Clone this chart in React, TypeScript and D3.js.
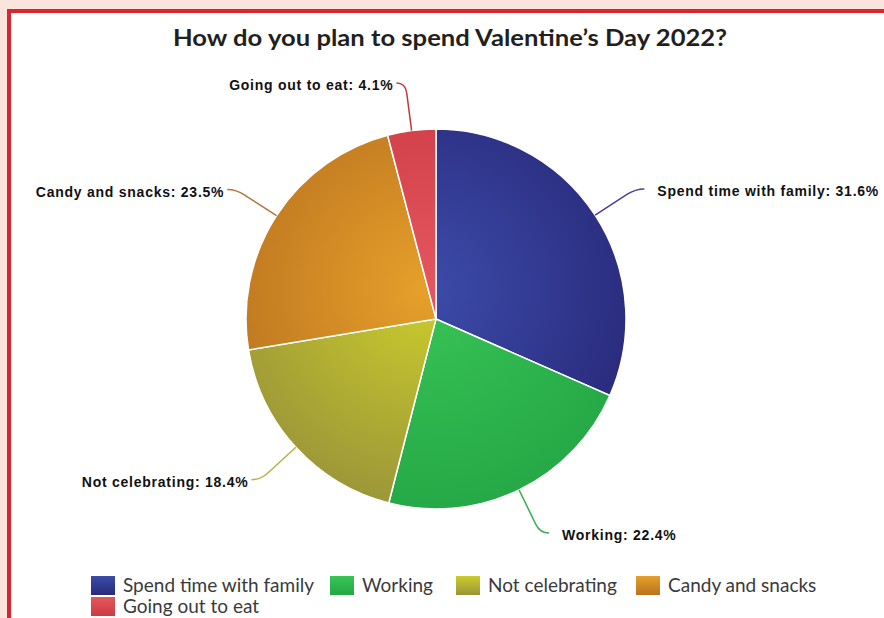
import React, { useEffect, useRef } from 'react';
import * as d3 from 'd3';

// Survey answers, clockwise from 12 o'clock
const categories = ['Spend time with family', 'Working', 'Not celebrating', 'Candy and snacks', 'Going out to eat'];
const shares = [31.6, 22.4, 18.4, 23.5, 4.1];
const lightColors = ['#3c4caa', '#38c456', '#cccd2c', '#e6a02a', '#e4565f'];
const darkColors = ['#29297a', '#25a846', '#9a9439', '#b9721f', '#cc3a43'];
const lineColors = ['#4a3f9a', '#3cae55', '#b3b347', '#b5733a', '#c0393f'];
const title = 'How do you plan to spend Valentine\u2019s Day 2022?';

function App() {
  const ref = useRef<SVGSVGElement | null>(null);

  useEffect(() => {
    const svg = d3.select(ref.current);
    svg.selectAll('*').remove();

    const width = 884;
    const height = 618;
    const cx = 436;
    const cy = 319;
    const radius = 190;

    // page background + red frame
    svg.append('rect').attr('width', width).attr('height', height).attr('fill', '#fae5dc');
    svg.append('rect').attr('x', 7).attr('y', 9).attr('width', width).attr('height', height)
      .attr('fill', '#d8252f');
    svg.append('rect').attr('x', 11).attr('y', 13).attr('width', width).attr('height', height)
      .attr('fill', '#ffffff');

    svg.append('text')
      .attr('x', 450)
      .attr('y', 46)
      .attr('text-anchor', 'middle')
      .attr('font-family', 'Lato, "Noto Sans", sans-serif')
      .attr('font-weight', 700)
      .attr('font-size', 23)
      .attr('textLength', 554)
      .attr('lengthAdjust', 'spacingAndGlyphs')
      .attr('fill', '#231f20')
      .text(title);

    const defs = svg.append('defs');
    categories.forEach((_, i) => {
      // coordinates relative to the pie centre (the slices live in a translated group)
      const g = defs.append('radialGradient')
        .attr('id', `slice-${i}`)
        .attr('gradientUnits', 'userSpaceOnUse')
        .attr('cx', -10).attr('cy', -30)
        .attr('r', radius * 1.2);
      g.append('stop').attr('offset', '0%').attr('stop-color', lightColors[i]);
      g.append('stop').attr('offset', '100%').attr('stop-color', darkColors[i]);

      const lg = defs.append('linearGradient')
        .attr('id', `swatch-${i}`)
        .attr('x1', 0).attr('y1', 0).attr('x2', 0).attr('y2', 1);
      lg.append('stop').attr('offset', '0%').attr('stop-color', lightColors[i]);
      lg.append('stop').attr('offset', '100%').attr('stop-color', darkColors[i]);
    });

    const pie = d3.pie<number>().sort(null).value(d => d);
    const arcs = pie(shares);
    const arc = d3.arc<d3.PieArcDatum<number>>().innerRadius(0).outerRadius(radius);

    const g = svg.append('g').attr('transform', `translate(${cx},${cy})`);

    g.selectAll('.slice')
      .data(arcs)
      .enter().append('path')
      .attr('class', 'slice')
      .attr('d', arc)
      .attr('fill', (_, i) => `url(#slice-${i})`)
      .attr('stroke', '#ffffff')
      .attr('stroke-width', 1.5);

    // leader lines and labels
    const polar = (a: number, r: number): [number, number] => [Math.sin(a) * r, -Math.cos(a) * r];
    arcs.forEach((d, i) => {
      const a = (d.startAngle + d.endAngle) / 2;
      const side = a < Math.PI ? 1 : -1;
      const p0 = polar(a, radius);
      const pA = polar(a, radius + 38);
      const p1 = polar(a, radius + 48);
      const p2: [number, number] = [p1[0] + side * 9, p1[1]];
      g.append('path')
        .attr('d', `M${p0[0]},${p0[1]}L${pA[0]},${pA[1]}Q${p1[0]},${p1[1]} ${p2[0]},${p2[1]}`)
        .attr('fill', 'none')
        .attr('stroke', lineColors[i])
        .attr('stroke-width', 1.5);
      g.append('text')
        .attr('x', p2[0] + (side > 0 ? 13 : -3))
        .attr('y', p2[1] + 2)
        .attr('dy', '0.36em')
        .attr('text-anchor', side > 0 ? 'start' : 'end')
        .attr('font-family', '"Liberation Sans", Arial, sans-serif')
        .attr('font-weight', 700)
        .attr('font-size', 14)
        .attr('letter-spacing', 0.75)
        .attr('fill', '#111111')
        .text(`${categories[i]}: ${shares[i]}%`);
    });

    // legend
    const legendX = [91, 330, 456, 636, 91];
    const legendRow = [0, 0, 0, 0, 1];
    const legend = svg.append('g').attr('transform', 'translate(0,576)');
    categories.forEach((c, i) => {
      const item = legend.append('g')
        .attr('transform', `translate(${legendX[i]},${legendRow[i] * 21})`);
      item.append('rect')
        .attr('width', 24).attr('height', 19)
        .attr('fill', `url(#swatch-${i})`);
      item.append('text')
        .attr('x', 32)
        .attr('y', 16)
        .attr('font-family', 'Lato, "Noto Sans", sans-serif')
        .attr('font-size', 19)
        .attr('fill', '#3a3a3a')
        .text(c);
    });
  }, []);

  return (
    <svg ref={ref} width={884} height={618} style={{ position: 'absolute', left: 0, top: 0 }} />
  );
}

export default App;
